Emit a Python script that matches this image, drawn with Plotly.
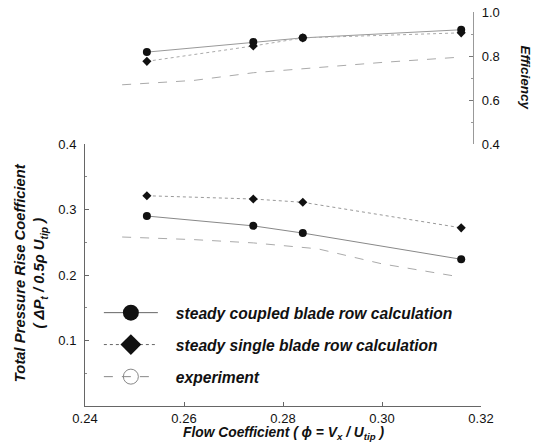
import plotly.graph_objects as go

# ---- data ----
phi_calc = [0.2525, 0.274, 0.284, 0.316]
eff_coupled = [0.819, 0.865, 0.884, 0.921]
eff_single = [0.777, 0.847, 0.884, 0.907]
psi_coupled = [0.290, 0.275, 0.264, 0.224]
psi_single = [0.321, 0.316, 0.311, 0.272]

phi_exp = [0.2475, 0.262, 0.274, 0.287, 0.300, 0.315]
eff_exp = [0.670, 0.690, 0.725, 0.750, 0.772, 0.795]
psi_exp = [0.258, 0.254, 0.249, 0.240, 0.217, 0.198]

x_ticks = [0.24, 0.26, 0.28, 0.30, 0.32]
psi_ticks = [0.1, 0.2, 0.3, 0.4]
eff_ticks = [0.4, 0.6, 0.8, 1.0]

names = ["steady coupled blade row calculation",
         "steady single blade row calculation",
         "experiment"]

FONT = "Liberation Sans, Arial, sans-serif"
BLACK = "#111111"
NB = "\u00a0\u00a0\u00a0"

fig = go.Figure()

# experiment
fig.add_trace(go.Scatter(x=phi_exp, y=psi_exp, mode="lines", showlegend=False,
                         line=dict(color="#aaaaaa", width=1, dash="dash"), xaxis="x", yaxis="y"))
fig.add_trace(go.Scatter(x=phi_exp, y=eff_exp, mode="lines", showlegend=False,
                         line=dict(color="#aaaaaa", width=1, dash="dash"), xaxis="x", yaxis="y2"))
# coupled
fig.add_trace(go.Scatter(x=phi_calc, y=psi_coupled, mode="lines+markers", showlegend=False,
                         line=dict(color="#888888", width=1),
                         marker=dict(symbol="circle", size=8, color=BLACK), yaxis="y"))
fig.add_trace(go.Scatter(x=phi_calc, y=eff_coupled, mode="lines+markers", showlegend=False,
                         line=dict(color="#999999", width=1),
                         marker=dict(symbol="circle", size=8, color=BLACK), yaxis="y2"))
# single
fig.add_trace(go.Scatter(x=phi_calc, y=psi_single, mode="lines+markers", showlegend=False,
                         line=dict(color="#999999", width=1, dash="dot"),
                         marker=dict(symbol="diamond", size=7, color=BLACK), yaxis="y"))
fig.add_trace(go.Scatter(x=phi_calc, y=eff_single, mode="lines+markers", showlegend=False,
                         line=dict(color="#aaaaaa", width=1, dash="dot"),
                         marker=dict(symbol="diamond", size=7, color=BLACK), yaxis="y2"))

# legend-only entries (one legend box each, stacked)
fig.add_trace(go.Scatter(x=[None], y=[None], mode="lines+markers", name=NB + names[0],
                         legend="legend",
                         line=dict(color="#666666", width=1),
                         marker=dict(symbol="circle", size=17, color=BLACK)))
fig.add_trace(go.Scatter(x=[None], y=[None], mode="lines+markers", name=NB + names[1],
                         legend="legend2",
                         line=dict(color="#666666", width=1, dash="dot"),
                         marker=dict(symbol="diamond", size=17, color=BLACK)))
fig.add_trace(go.Scatter(x=[None], y=[None], mode="lines+markers", name=NB + names[2],
                         legend="legend3",
                         line=dict(color="#888888", width=1, dash="dash"),
                         marker=dict(symbol="circle-open", size=15, color="#888888",
                                     line=dict(width=1))))

axis_common = dict(showgrid=False, zeroline=False, automargin=False,
                   tickfont=dict(size=13))

leg_font = dict(family=FONT, size=15.6, weight="bold", style="italic")
def leg(y):
    return dict(x=0.035, y=y, xanchor="left", yanchor="middle",
                bgcolor="rgba(0,0,0,0)", itemwidth=54, font=leg_font)

fig.update_layout(
    width=537, height=444,
    margin=dict(l=85, r=56, t=12, b=38, autoexpand=False),
    paper_bgcolor="white", plot_bgcolor="white",
    font=dict(family=FONT, size=12, color="#111111"),
    xaxis=dict(range=[0.24, 0.32], tickvals=x_ticks, ticktext=[f"{v:.2f}" for v in x_ticks],
               showline=True, linecolor="#666666", linewidth=1,
               ticks="inside", ticklen=4, tickcolor="#666666", anchor="y", **axis_common),
    yaxis=dict(domain=[0, 0.665], range=[0, 0.4], tickvals=psi_ticks,
               ticktext=[f"{v:.1f}" for v in psi_ticks],
               showline=True, linecolor="#666666", linewidth=1,
               ticks="inside", ticklen=4, tickcolor="#666666", ticklabelstandoff=5,
               minor=dict(dtick=0.05, ticks="inside", ticklen=2, tickcolor="#888888"),
               **axis_common),
    yaxis2=dict(domain=[0.665, 1.0], range=[0.4, 1.002], tickvals=eff_ticks,
                ticktext=[f"{v:.1f}" for v in eff_ticks],
                anchor="free", position=0.98, side="right",
                showline=True, linecolor="#999999", linewidth=1,
                ticks="inside", ticklen=4, tickcolor="#777777", ticklabelstandoff=5,
                ticklabeloverflow="allow",
                minor=dict(dtick=0.1, ticks="inside", ticklen=2, tickcolor="#999999"),
                **axis_common),
    legend=leg(0.236),
    legend2=leg(0.155),
    legend3=leg(0.0736),
    annotations=[
        dict(text="<b><i>Efficiency</i></b>", xref="paper", yref="paper",
             x=1.11, y=0.8325, xanchor="center", yanchor="middle",
             textangle=90, showarrow=False, font=dict(size=13.5)),
        dict(text="<b><i>Total Pressure Rise Coefficient<br>( ΔP<sub>t</sub> / 0.5ρ U<sub>tip</sub> )</i></b>",
             xref="paper", yref="paper", x=-0.136, y=0.3376, xanchor="center", yanchor="middle",
             textangle=-90, showarrow=False, font=dict(size=14.8)),
        dict(text="<b><i>Flow Coefficient ( ϕ = V<sub>x</sub> / U<sub>tip</sub> )</i></b>",
             xref="paper", yref="paper", x=0.5, y=-0.071, xanchor="center", yanchor="middle",
             borderpad=0, showarrow=False, font=dict(size=13.8)),
    ],
)

fig.write_html("out.html", config={"displayModeBar": False},
               post_script="document.body.style.margin='0';")
